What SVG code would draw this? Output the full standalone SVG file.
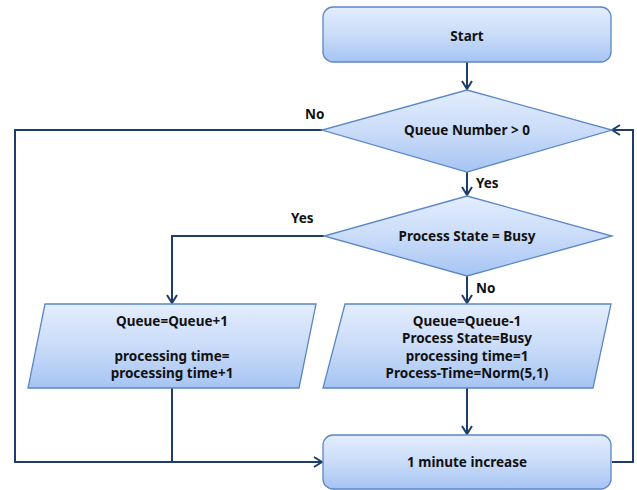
<svg xmlns="http://www.w3.org/2000/svg" width="637" height="490" viewBox="0 0 637 490">
  <style>
    .shape { fill: url(#fillGrad); stroke: #5b87c5; stroke-width: 1.3; }
    .label { font-family: "Noto Sans", "Liberation Sans", sans-serif; font-weight: bold; font-size: 13.5px; fill: #111; text-anchor: middle; }
    .edge { fill: none; stroke: #1f3d68; stroke-width: 2; }
    .edgeLabel { font-family: "Noto Sans", "Liberation Sans", sans-serif; font-weight: bold; font-size: 13.5px; fill: #111; }
  </style>
  <defs>
    <linearGradient id="fillGrad" x1="0" y1="0" x2="0" y2="1">
      <stop offset="0" stop-color="#e3edfd"/>
      <stop offset="0.5" stop-color="#cadcf9"/>
      <stop offset="1" stop-color="#a6c4f3"/>
    </linearGradient>
    <marker id="arrow" viewBox="0 0 10 12" refX="9" refY="6" markerWidth="10" markerHeight="12" markerUnits="userSpaceOnUse" orient="auto">
      <path d="M1,1 L9,6 L1,11" fill="none" stroke="#1f3d68" stroke-width="2"/>
    </marker>
  </defs>

  <rect width="637" height="490" fill="#ffffff"/>

  <!-- connectors -->
  <g id="connectors">
    <path class="edge" d="M467,62 L467,89" marker-end="url(#arrow)"/>
    <path class="edge" d="M467,172 L467,195" marker-end="url(#arrow)"/>
    <path class="edge" d="M324,236 L172,236 L172,303" marker-end="url(#arrow)"/>
    <path class="edge" d="M467,276 L467,303" marker-end="url(#arrow)"/>
    <path class="edge" d="M467,388 L467,434" marker-end="url(#arrow)"/>
    <path class="edge" d="M322,130 L15,130 L15,462 L322,462" marker-end="url(#arrow)"/>
    <path class="edge" d="M172,388 L172,462"/>
    <path class="edge" d="M612,462 L633,462 L633,130 L612,130" marker-end="url(#arrow)"/>
    <text class="edgeLabel" x="305" y="119">No</text>
    <text class="edgeLabel" x="476" y="188">Yes</text>
    <text class="edgeLabel" x="291" y="223">Yes</text>
    <text class="edgeLabel" x="476" y="293">No</text>
  </g>

  <!-- start -->
  <g id="start">
    <rect class="shape" x="323" y="7" width="288" height="55" rx="10" ry="10"/>
    <text class="label" x="467" y="41">Start</text>
  </g>

  <!-- decision: queue number -->
  <g id="queueCheck">
    <polygon class="shape" points="467,90 612,130 467,172 322,130"/>
    <text class="label" x="467" y="135">Queue Number &gt; 0</text>
  </g>

  <!-- decision: process state -->
  <g id="stateCheck">
    <polygon class="shape" points="467,196 612,236 467,276 324,236"/>
    <text class="label" x="467" y="241">Process State = Busy</text>
  </g>

  <!-- queue increment -->
  <g id="queueUp">
    <polygon class="shape" points="45,304 316,304 299,388 28,388"/>
    <text class="label" x="172" y="326">Queue=Queue+1</text>
    <text class="label" x="172" y="361">processing time=</text>
    <text class="label" x="172" y="378">processing time+1</text>
  </g>

  <!-- start processing -->
  <g id="startProcess">
    <polygon class="shape" points="345,304 611,304 593,388 323,388"/>
    <text class="label" x="467" y="326">Queue=Queue-1</text>
    <text class="label" x="467" y="343">Process State=Busy</text>
    <text class="label" x="467" y="361">processing time=1</text>
    <text class="label" x="467" y="378">Process-Time=Norm(5,1)</text>
  </g>

  <!-- clock tick -->
  <g id="tick">
    <rect class="shape" x="323" y="435" width="288" height="54" rx="10" ry="10"/>
    <text class="label" x="467" y="467">1 minute increase</text>
  </g>
</svg>
